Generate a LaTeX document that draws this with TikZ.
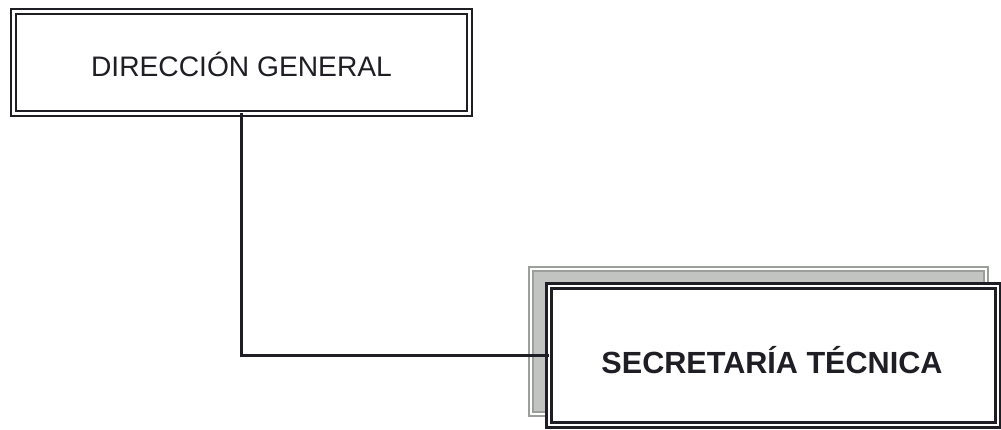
\documentclass[tikz,border=0pt]{standalone}
\usepackage{fontspec}
\setmainfont{Liberation Sans}
\definecolor{ink}{HTML}{1E1E24}
\definecolor{shadowfill}{HTML}{C2C4C2}
\definecolor{shadowline}{HTML}{9C9E9C}
\begin{document}
\begin{tikzpicture}[x=1pt,y=-1pt,
  unitbox/.style={draw=ink, double=white, double distance=2.6pt, line width=2.4pt,
    fill=white, inner sep=0pt, outer sep=0pt, text=ink},
  backplate/.style={draw=shadowline, double=white, double distance=2pt, line width=1.6pt,
    fill=shadowfill, inner sep=0pt, outer sep=0pt},
  link/.style={draw=ink, line width=2.6pt}]
  \useasboundingbox (0,0) rectangle (1001,430);

  % top unit
  \node[unitbox, minimum width=456pt, minimum height=102pt] (dg) at (241.5,62.5) {};
  \node[text=ink, font=\fontsize{28.2}{34}\selectfont] (dglabel) at (241.5,64) {DIRECCIÓN GENERAL};

  % shadow plate behind the lower unit
  \node[backplate, minimum width=455pt, minimum height=145pt] (plate) at (758.5,341.5) {};

  % lower unit
  \node[unitbox, minimum width=449pt, minimum height=139pt] (st) at (773.5,355.5) {};
  \node[text=ink, font=\bfseries\fontsize{30.6}{37}\selectfont] (stlabel) at (772,360) {SECRETARÍA TÉCNICA};

  % connector
  \draw[link] (dg.south) |- (st.west);
\end{tikzpicture}
\end{document}
